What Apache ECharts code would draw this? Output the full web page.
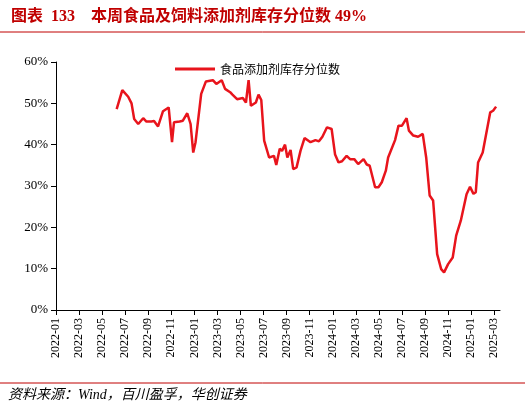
<!DOCTYPE html><html><head><meta charset="utf-8"><script src="https://cdn.jsdelivr.net/npm/echarts@6/dist/echarts.min.js"></script></head><body style="margin:0"><div id="c" style="width:525px;height:413px"></div><script>
const monthIdx=[5.26,5.75,6.26,6.55,6.78,7.13,7.56,7.84,8.28,8.5,8.85,9.28,9.77,10.06,10.23,10.72,11.0,11.38,11.67,11.9,12.1,12.59,13.0,13.6,13.9,14.37,14.66,15.1,15.3,15.7,16.2,16.47,16.7,16.9,17.33,17.56,17.8,18.05,18.48,18.9,19.1,19.4,19.6,19.86,20.06,20.34,20.57,20.86,21.2,21.55,22.07,22.5,22.8,23.1,23.5,23.9,24.2,24.5,24.8,25.2,25.5,25.86,26.2,26.67,26.95,27.2,27.67,27.96,28.25,28.6,28.8,29.4,29.7,30.0,30.4,30.6,30.98,31.4,31.8,32.1,32.4,32.7,33.05,33.4,33.65,34.0,34.4,34.7,35.1,35.6,35.9,36.2,36.4,36.6,37.0,37.65,37.9,38.16];
const values=[48.6,53.2,51.6,50,46.2,45,46.4,45.6,45.6,45.7,44.4,48.1,49,40.6,45.4,45.6,45.8,47.6,45,38.1,40.6,52.3,55.3,55.6,54.7,55.6,53.5,52.7,52.1,51,51.3,50.2,55.6,49.4,50.2,52.1,50.8,41,36.9,37.3,35.1,39,38.5,40,36.9,38.7,34.1,34.5,38.5,41.6,40.6,41.1,40.8,41.9,44.2,43.8,37.6,35.7,36,37.3,36.5,36.5,35.3,36.5,35.2,34.9,29.7,29.7,30.9,33.7,36.9,41.1,44.6,44.6,46.4,43.4,42.2,41.9,42.6,36.9,27.7,26.5,13.5,9.9,9.1,11.1,12.7,18,21.6,28,29.8,28.1,28.5,35.7,38.1,47.8,48.2,49.2];
const yTicks=[0,10,20,30,40,50,60];
const seriesName='食品添加剂库存分位数';
const c=echarts.init(document.getElementById('c'));
c.setOption({animation:false,
title:{text:'图表  133    本周食品及饲料添加剂库存分位数 49%',left:6,top:4,textStyle:{color:'#c00000',fontSize:16,fontWeight:'bold',fontFamily:'Liberation Serif, Noto Sans CJK SC'}},
graphic:[{type:'line',shape:{x1:0,y1:32,x2:525,y2:32},style:{stroke:'#c00000',lineWidth:1}},
{type:'line',shape:{x1:0,y1:383,x2:525,y2:383},style:{stroke:'#c00000',lineWidth:1}},
{type:'text',left:8,top:388,style:{text:'资料来源：Wind，百川盈孚，华创证券',font:'italic 14px Liberation Serif, Noto Sans CJK SC',fill:'#000'}}],
legend:{top:58,left:170,itemWidth:40,itemHeight:3,icon:'rect',textStyle:{fontSize:12,fontFamily:'Noto Sans CJK SC',color:'#000'}},
grid:{left:56,right:25,top:62,bottom:103},
xAxis:{type:'value',min:0,max:38.5,interval:2,axisLine:{lineStyle:{color:'#000'}},axisTick:{lineStyle:{color:'#000'}},splitLine:{show:false},
axisLabel:{rotate:90,color:'#000',fontSize:12,fontFamily:'Liberation Serif',showMaxLabel:false,formatter:v=>{const y=2022+Math.floor(v/12),m=v%12+1;return y+'-'+String(m).padStart(2,'0');}}},
yAxis:{type:'value',min:0,max:60,interval:10,axisLine:{show:true,lineStyle:{color:'#000'}},axisTick:{show:true,lineStyle:{color:'#000'}},splitLine:{show:false},axisLabel:{color:'#000',fontSize:13,fontFamily:'Liberation Serif',formatter:'{value}%'}},
series:[{name:seriesName,type:'line',showSymbol:false,data:monthIdx.map((m,i)=>[m,values[i]]),lineStyle:{color:'#e8141c',width:2.5},itemStyle:{color:'#e8141c'}}]});
</script></body></html>
